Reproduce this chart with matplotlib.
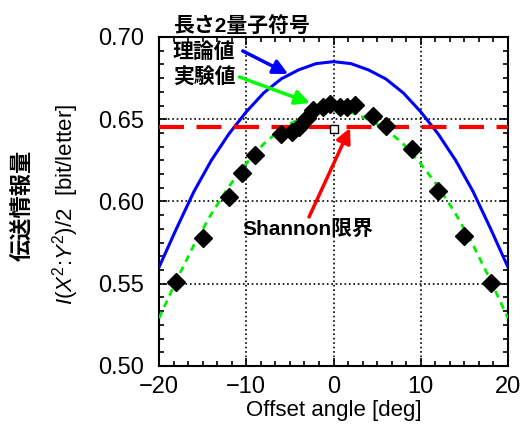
import numpy as np
import matplotlib
matplotlib.use("Agg")
import matplotlib.pyplot as plt
from matplotlib.ticker import MultipleLocator, AutoMinorLocator

plt.rcParams['font.family'] = ['Liberation Sans', 'Noto Sans CJK JP', 'DejaVu Sans']
plt.rcParams['mathtext.fontset'] = 'custom'
plt.rcParams['mathtext.rm'] = 'Liberation Sans'
plt.rcParams['mathtext.it'] = 'Liberation Sans:italic'

# theory curve
theory_x = [-20, -18, -16, -14, -12, -10, -8, -6, -4, -2, 0,
            2, 4, 6, 8, 10, 12, 14, 16, 18, 20]
theory_y = [0.560, 0.5835, 0.606, 0.625, 0.641, 0.6545, 0.666, 0.6745, 0.680, 0.6838, 0.685,
            0.6838, 0.680, 0.6745, 0.666, 0.6545, 0.641, 0.625, 0.606, 0.5835, 0.560]

# fitted curve through experiment
fit_x = [-20, -18, -16, -14, -12, -10, -8, -6, -4, -2, 0,
         2, 4, 6, 8, 10, 12, 14, 16, 18, 20]
fit_y = [0.529, 0.552, 0.5735, 0.5925, 0.609, 0.623, 0.635, 0.644, 0.650, 0.6543, 0.6556,
         0.6543, 0.650, 0.644, 0.635, 0.623, 0.609, 0.5925, 0.5735, 0.552, 0.529]

# experimental points
exp_x = [-18, -15, -12, -10.5, -9, -6, -4.7, -4, -3, -2.3, -1.2, -0.4,
         0.7, 1.5, 2.5, 4.5, 6, 9, 12, 15, 18]
exp_y = [0.551, 0.578, 0.603, 0.6175, 0.628, 0.641, 0.6425, 0.645, 0.651, 0.6555, 0.6575, 0.659,
         0.6575, 0.6575, 0.6585, 0.652, 0.6458, 0.6317, 0.6066, 0.579, 0.5506]

shannon = 0.6455
square_x, square_y = 0, 0.644

fig = plt.figure(figsize=(5.22, 4.29), dpi=100)
ax = fig.add_axes([0.3046, 0.1469, 0.6686, 0.7669])

ax.plot(theory_x, theory_y, color='#0000ff', lw=2.2, zorder=3)
ax.plot(fit_x, fit_y, color='#00ee00', lw=2, ls=(0, (2.5, 2)), zorder=3)
ax.axhline(shannon, color='#ff0000', lw=3, ls=(0, (6, 3)), zorder=4)
ax.plot(exp_x, exp_y, ls='none', marker='D', ms=9, color='black', zorder=5)
ax.plot([square_x], [square_y], ls='none', marker='s', ms=6, mfc='white',
        mec='black', mew=1, zorder=6)

ax.set_xlim(-20, 20)
ax.set_ylim(0.50, 0.70)
ax.xaxis.set_major_locator(MultipleLocator(10))
ax.yaxis.set_major_locator(MultipleLocator(0.05))
ax.xaxis.set_minor_locator(AutoMinorLocator(6))
ax.yaxis.set_minor_locator(AutoMinorLocator(6))
ax.yaxis.set_major_formatter(matplotlib.ticker.FormatStrFormatter('%.2f'))
ax.tick_params(which='both', direction='in', top=True, right=True, labelsize=17, width=1.2)
ax.tick_params(which='major', length=6)
ax.tick_params(axis='y', which='major', pad=11)
ax.tick_params(axis='x', which='major', pad=7)
ax.tick_params(which='minor', length=3.5)
for s in ax.spines.values():
    s.set_linewidth(1.5)
ax.grid(True, which='major', color='black', ls=':', lw=1.2)
ax.set_axisbelow(True)

ax.set_xlabel('Offset angle [deg]', fontsize=16, labelpad=2)

fig.text(0.042, 0.522, '伝送情報量', rotation=90, fontsize=16, fontweight='bold',
         ha='center', va='center', family=['Noto Sans CJK JP'])
fig.text(0.126, 0.524, '$I$($X^2$:$Y^2$)/2  [bit/letter]', rotation=90, fontsize=16,
         ha='center', va='center')

fam = ['Liberation Sans', 'Noto Sans CJK JP']
ax.text(-18.4, 0.7067, '長さ2量子符号', fontsize=15, fontweight='bold', va='center',
        family=fam, clip_on=False)
ax.text(-18.4, 0.6909, '理論値', fontsize=15, fontweight='bold', va='center', family=fam)
ax.text(-18.4, 0.6757, '実験値', fontsize=15, fontweight='bold', va='center', family=fam)
ax.text(-10.4, 0.5833, 'Shannon限界', fontsize=15, fontweight='bold', va='center', family=fam)

ax.annotate('', xy=(-5.2, 0.6775), xytext=(-10.4, 0.6915),
            arrowprops=dict(arrowstyle='-|>', color='#0000ff', lw=2.5, mutation_scale=22,
                            shrinkA=0, shrinkB=0), zorder=6)
ax.annotate('', xy=(-2.7, 0.6599), xytext=(-10.8, 0.6757),
            arrowprops=dict(arrowstyle='-|>', color='#00ff00', lw=2.5, mutation_scale=22,
                            shrinkA=0, shrinkB=0), zorder=6)
ax.annotate('', xy=(1.9, 0.6447), xytext=(-2.8, 0.5906),
            arrowprops=dict(arrowstyle='-|>', color='#ff0000', lw=2.5, mutation_scale=22,
                            shrinkA=0, shrinkB=0), zorder=6)

fig.savefig('out.png', dpi=100)
